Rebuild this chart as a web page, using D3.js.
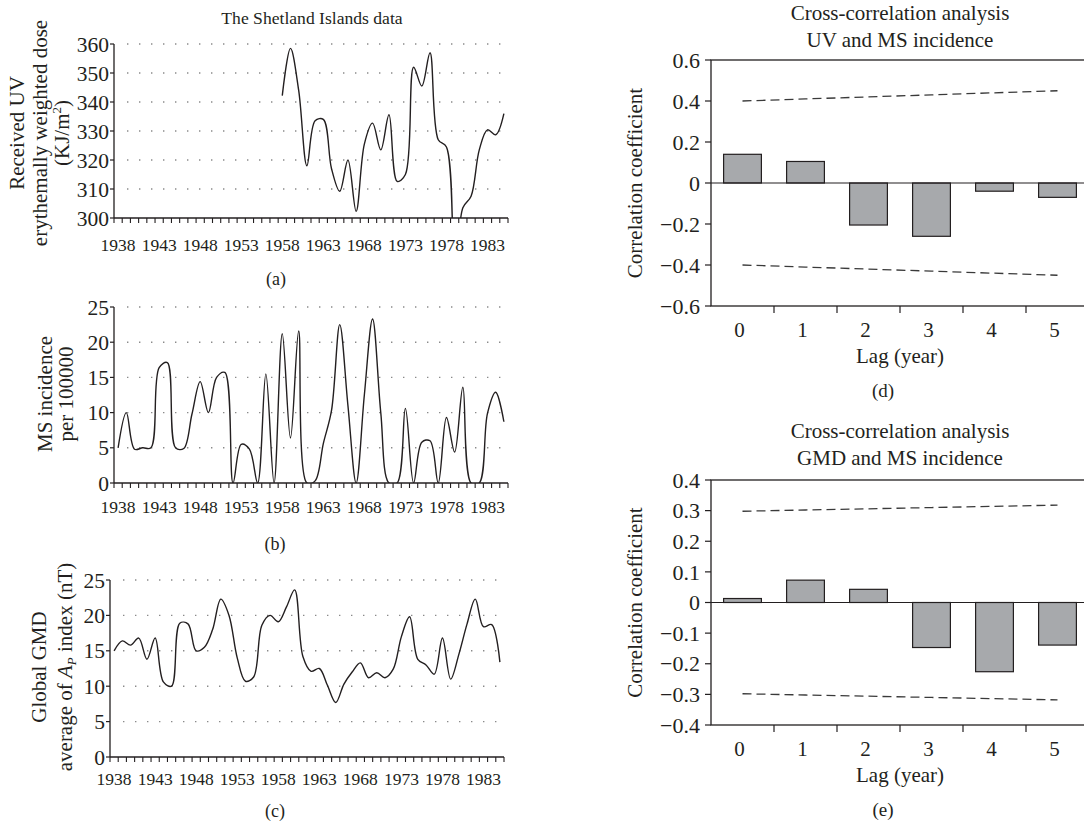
<!DOCTYPE html>
<html><head><meta charset="utf-8">
<script src="https://cdn.jsdelivr.net/npm/d3@7"></script>
<style>
body{margin:0;background:#fff}
svg{display:block}
text{font-family:"Liberation Serif","Times New Roman",serif;fill:#231f20}
</style>
</head><body>
<svg id="chart" width="1084" height="827" font-family="Liberation Serif, Times New Roman, serif"></svg>
<script>
// ---------- data ----------
const years = d3.range(1938, 1986);
const yearTickLabels = [1938, 1943, 1948, 1953, 1958, 1963, 1968, 1973, 1978, 1983];

// (a) received UV erythemally weighted dose (KJ/m2); null = no data, 1979 below axis
const uvValues = [
  null, null, null, null, null, null, null, null, null, null,
  null, null, null, null, null, null, null, null, null, null,
  342.2, 358.5, 344, 318, 333.5, 334, 317, 309.2, 320, 302.3,
  325.5, 332.7, 323.5, 335.6, 312.6, 315, 352, 345.5, 357, 327,
  324.5, 280, 303.5, 307.5, 323.5, 330.4, 328.7, 336
];
// (b) MS incidence per 100000
const msValues = [
  5.0, 10.0, 4.8, 5.0, 5.0, 16.4, 17.1, 5.0, 4.9, 9.8,
  14.4, 10.0, 15.0, 15.7, 0, 5.5, 4.8, 0, 15.5, 0,
  21.2, 6.4, 21.6, 0, 0.3, 5.6, 10.3, 22.5, 11, 0,
  12.5, 23.3, 10, 0, 0, 10.6, 0, 5.8, 6.0, 0,
  9.3, 4.4, 13.6, 0, 0, 9.9, 12.9, 8.7
];
// (c) global GMD, average of Ap index (nT)
const gmdValues = [
  15.0, 16.4, 15.8, 16.8, 13.8, 16.8, 10.6, 10.0, 18.9, 18.8,
  15.0, 15.5, 18.0, 22.3, 20.0, 14.0, 10.7, 11.3, 18.6, 20.0,
  19.1, 21.2, 23.6, 14.2, 12.1, 12.5, 10.1, 7.7, 10.3, 12.0,
  13.3, 11.2, 11.9, 11.2, 12.4, 17.0, 19.8, 13.8, 13.0, 11.7,
  16.8, 11.0, 14.5, 18.8, 22.3, 18.4, 18.7, 13.4
];
const uvTicks = [300, 310, 320, 330, 340, 350, 360];
const msTicks = [0, 5, 10, 15, 20, 25];
const gmdTicks = [0, 5, 10, 15, 20, 25];

// (d), (e) cross-correlation
const lags = [0, 1, 2, 3, 4, 5];
const uvMsCorr = [0.14, 0.105, -0.205, -0.26, -0.04, -0.07];
const uvMsLimit = [0.40, 0.41, 0.42, 0.43, 0.44, 0.45];
const gmdMsCorr = [0.013, 0.073, 0.043, -0.147, -0.226, -0.139];
const gmdMsLimit = [0.298, 0.302, 0.306, 0.310, 0.314, 0.318];
const corrTicksD = [-0.6, -0.4, -0.2, 0, 0.2, 0.4, 0.6];
const corrTicksE = [-0.4, -0.3, -0.2, -0.1, 0, 0.1, 0.2, 0.3, 0.4];

// ---------- drawing ----------
const svg = d3.select("#chart");
const ink = "#231f20";
let clipId = 0;

function rotLabel(g, x, y, size) {
  return g.append("text")
    .attr("transform", `translate(${x},${y}) rotate(-90)`)
    .attr("text-anchor", "middle").attr("dy", "0.35em")
    .attr("font-size", size);
}

function linePanel(o) {
  const g = svg.append("g");
  const x = d3.scaleBand().domain(years).range([o.left, o.right]).padding(0);
  const cx = d => x(d) + x.bandwidth() / 2;
  const y = d3.scaleLinear().domain(o.domain).range([o.bottom, o.top]);

  // dotted gridlines
  g.selectAll(".grid").data(o.ticks.filter(t => t !== o.domain[0])).join("line")
    .attr("x1", o.left + 13).attr("x2", o.right - 6)
    .attr("y1", d => y(d)).attr("y2", d => y(d))
    .attr("stroke", "#8a8a8a").attr("stroke-width", 1.4)
    .attr("stroke-dasharray", "1.4,10.6");

  // data line (clipped to plot)
  const id = "clip" + (clipId++);
  svg.append("clipPath").attr("id", id).append("rect")
    .attr("x", o.left).attr("y", o.top - 10)
    .attr("width", o.right - o.left).attr("height", o.bottom - o.top + 10);
  const line = d3.line()
    .defined(d => d.v != null)
    .x(d => cx(d.year)).y(d => y(d.v))
    .curve(d3.curveCatmullRom.alpha(0.5));
  g.append("path")
    .datum(years.map((yr, i) => ({year: yr, v: o.values[i]})))
    .attr("d", line).attr("fill", "none")
    .attr("stroke", ink).attr("stroke-width", 1.4)
    .attr("clip-path", `url(#${id})`);

  // axes
  g.append("line").attr("x1", o.left).attr("x2", o.left)
    .attr("y1", o.top).attr("y2", o.bottom).attr("stroke", ink).attr("stroke-width", 1.3);
  g.append("line").attr("x1", o.left).attr("x2", o.right)
    .attr("y1", o.bottom).attr("y2", o.bottom).attr("stroke", ink).attr("stroke-width", 1.3);
  g.selectAll(".yt").data(o.ticks).join("line")
    .attr("x1", o.left - 4).attr("x2", o.left)
    .attr("y1", d => y(d)).attr("y2", d => y(d)).attr("stroke", ink).attr("stroke-width", 1.2);
  g.selectAll(".yl").data(o.ticks).join("text")
    .attr("x", o.left - 5).attr("y", d => y(d)).attr("dy", "0.35em")
    .attr("text-anchor", "end").attr("font-size", 21.5).text(d => d);
  const edges = years.map(d => x(d)).concat([o.right]);
  g.selectAll(".xt").data(edges).join("line")
    .attr("x1", d => d).attr("x2", d => d)
    .attr("y1", o.bottom).attr("y2", o.bottom + 5).attr("stroke", ink).attr("stroke-width", 1.1);
  g.selectAll(".xl").data(yearTickLabels).join("text")
    .attr("x", d => cx(d)).attr("y", o.xLabelY)
    .attr("text-anchor", "middle").attr("font-size", 17.5).text(d => d);

  // caption
  g.append("text").attr("x", o.captionX).attr("y", o.captionY)
    .attr("text-anchor", "middle").attr("font-size", 18).text(o.caption);
  return g;
}

// (a)
const ga = linePanel({left: 114, right: 508, top: 44, bottom: 218, domain: [300, 360],
  ticks: uvTicks, values: uvValues, xLabelY: 251, caption: "(a)", captionX: 276, captionY: 285});
ga.append("text").attr("x", 312).attr("y", 24).attr("text-anchor", "middle")
  .attr("font-size", 17.6).text("The Shetland Islands data");
rotLabel(ga, 17, 133, 21).text("Received UV");
rotLabel(ga, 40, 133, 21).text("erythemally weighted dose");
const kj = rotLabel(ga, 62, 133, 21);
kj.append("tspan").text("(KJ/m");
kj.append("tspan").attr("font-size", 13).attr("dy", -8).text("2");
kj.append("tspan").attr("dy", 8).text(")");

// (b)
const gb = linePanel({left: 114, right: 508, top: 307, bottom: 483, domain: [0, 25],
  ticks: msTicks, values: msValues, xLabelY: 513, caption: "(b)", captionX: 275, captionY: 550});
rotLabel(gb, 45, 394, 21).text("MS incidence");
rotLabel(gb, 66, 394, 21).text("per 100000");

// (c)
const gc = linePanel({left: 110, right: 504, top: 580, bottom: 757, domain: [0, 25],
  ticks: gmdTicks, values: gmdValues, xLabelY: 785, caption: "(c)", captionX: 275, captionY: 817});
rotLabel(gc, 39, 667, 21).text("Global GMD");
const ap = rotLabel(gc, 65, 667, 21);
ap.append("tspan").text("average of ");
ap.append("tspan").attr("font-style", "italic").text("A");
ap.append("tspan").attr("font-style", "italic").attr("font-size", 13).attr("dy", 4).text("P");
ap.append("tspan").attr("dy", -4).text(" index (nT)");

// bar panels
function fmt(v) {
  if (Math.abs(v) < 1e-9) return "0";
  const s = d3.format(".1f")(Math.abs(v));
  return (v < 0 ? "\u2212" : "") + s;
}

function barPanel(o) {
  const g = svg.append("g");
  const step = 63;
  const x = d3.scaleBand().domain(lags).range([o.left, o.left + step * lags.length])
    .paddingInner(0.4).paddingOuter(0.2);
  const cx = d => x(d) + x.bandwidth() / 2;
  const y = d3.scaleLinear().domain(o.domain).range([o.bottom, o.top]);
  const right = o.left + step * lags.length;

  // titles
  g.append("text").attr("x", 900).attr("y", o.titleY).attr("text-anchor", "middle")
    .attr("font-size", 21).text("Cross-correlation analysis");
  g.append("text").attr("x", 900).attr("y", o.titleY + 27).attr("text-anchor", "middle")
    .attr("font-size", 21).text(o.title2);

  // bars
  g.selectAll(".bar").data(lags).join("rect")
    .attr("x", d => x(d))
    .attr("y", (d, i) => y(Math.max(0, o.values[i])))
    .attr("width", x.bandwidth())
    .attr("height", (d, i) => Math.abs(y(o.values[i]) - y(0)))
    .attr("fill", "#a7a9ac").attr("stroke", ink).attr("stroke-width", 1.2);

  // zero line
  g.append("line").attr("x1", o.left).attr("x2", right)
    .attr("y1", y(0)).attr("y2", y(0)).attr("stroke", ink).attr("stroke-width", 1.2);

  // confidence limits
  const lim = d3.line().x((d, i) => cx(lags[i])).y(d => y(d));
  g.append("path").datum(o.limit).attr("d", lim).attr("fill", "none")
    .attr("stroke", "#3a3a3a").attr("stroke-width", 1.3).attr("stroke-dasharray", "9,5");
  g.append("path").datum(o.limit.map(v => -v)).attr("d", lim).attr("fill", "none")
    .attr("stroke", "#3a3a3a").attr("stroke-width", 1.3).attr("stroke-dasharray", "9,5");

  // frame & axes
  g.append("rect").attr("x", o.left).attr("y", o.top)
    .attr("width", right - o.left).attr("height", o.bottom - o.top)
    .attr("fill", "none").attr("stroke", ink).attr("stroke-width", 1.3);
  g.selectAll(".yt").data(o.ticks).join("line")
    .attr("x1", o.left - 6).attr("x2", o.left)
    .attr("y1", d => y(d)).attr("y2", d => y(d)).attr("stroke", ink).attr("stroke-width", 1.2);
  g.selectAll(".yl").data(o.ticks).join("text")
    .attr("x", o.left - 11).attr("y", d => y(d)).attr("dy", "0.35em")
    .attr("text-anchor", "end").attr("font-size", 22).text(d => fmt(d));
  g.selectAll(".xt").data(lags.slice(1)).join("line")
    .attr("x1", d => x(d) - x.step() * 0.2).attr("x2", d => x(d) - x.step() * 0.2)
    .attr("y1", o.bottom).attr("y2", o.bottom + 7).attr("stroke", ink).attr("stroke-width", 1.2);
  g.selectAll(".xl").data(lags).join("text")
    .attr("x", d => cx(d) - 3).attr("y", o.bottom + 31)
    .attr("text-anchor", "middle").attr("font-size", 21).text(d => d);

  g.append("text").attr("x", 900).attr("y", o.bottom + 57).attr("text-anchor", "middle")
    .attr("font-size", 21).text("Lag (year)");
  rotLabel(g, 635, (o.top + o.bottom) / 2, 21).text("Correlation coefficient");
  g.append("text").attr("x", 883).attr("y", o.bottom + 91).attr("text-anchor", "middle")
    .attr("font-size", 19).text(o.caption);
}

barPanel({left: 711, top: 60, bottom: 306, domain: [-0.6, 0.6], ticks: corrTicksD,
  values: uvMsCorr, limit: uvMsLimit, titleY: 20, title2: "UV and MS incidence", caption: "(d)"});
barPanel({left: 711, top: 480, bottom: 725, domain: [-0.4, 0.4], ticks: corrTicksE,
  values: gmdMsCorr, limit: gmdMsLimit, titleY: 438, title2: "GMD and MS incidence", caption: "(e)"});
</script>
</body></html>
